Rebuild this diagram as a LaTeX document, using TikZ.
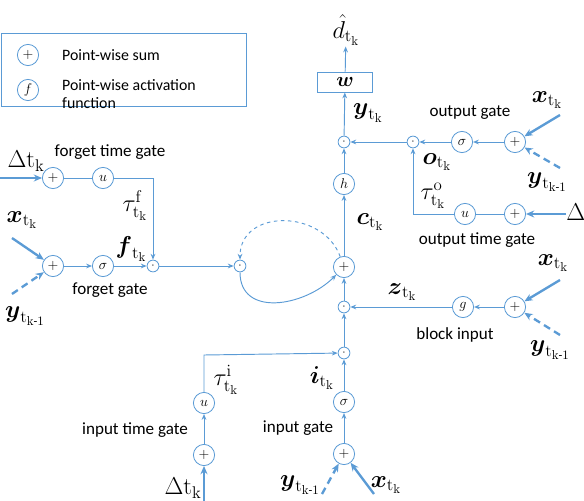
\documentclass[tikz,border=0pt]{standalone}
\usepackage{amsmath}
\usepackage{amssymb}
\usepackage[no-math]{fontspec}
\setmainfont{Carlito}
\usepackage{tikz}
\usetikzlibrary{positioning, arrows.meta}

\definecolor{lineblue}{RGB}{91,155,213}
\newcommand{\tk}{\mathrm{t}_{\mathrm{k}}}
\newcommand{\tkm}{\mathrm{t}_{\mathrm{k}\text{-}1}}

\tikzset{
  op/.style={circle, draw=lineblue, fill=white, line width=0.7pt, minimum size=18pt, inner sep=0pt, font=\fontsize{12}{14}\selectfont},
  dotop/.style={circle, draw=lineblue, fill=white, line width=0.7pt, minimum size=10pt, inner sep=0pt},
  flow/.style={lineblue, line width=0.8pt, -{Stealth[length=5pt,width=4pt]}},
  feed/.style={lineblue, line width=2pt, -{Stealth[length=7pt,width=6pt]}},
  legendtext/.style={font=\fontsize{13.5}{15.5}\selectfont},
  gatename/.style={font=\fontsize{14.5}{16}\selectfont},
  vec/.style={font=\fontsize{21}{23}\selectfont, inner sep=1pt},
}

\begin{document}
\begin{tikzpicture}[x=0.85pt, y=-0.85pt]
\useasboundingbox (0,0) rectangle (584,501);

% legend
\draw[lineblue, line width=0.7pt] (1,33) rectangle (246,106);
\node[op] (legsum) at (28,55) {$+$};
\node[op] (legact) at (28,90) {$f$};
\node[legendtext, anchor=west] (legsumtxt) at (58,55) {Point-wise sum};
\node[legendtext, anchor=west, align=left] (legacttxt) at (58,94) {Point-wise activation\\function};

% forget gate and forget time gate
\node[op] (ftplus) at (53,178) {$+$};
\node[op] (ftu) at (103,178) {$u$};
\node[op] (fplus) at (53,266) {$+$};
\node[op] (fsig) at (103,266) {$\sigma$};
\node[dotop] (fdot) at (153,266) {$\cdot$};
\coordinate (fcorner) at (153,178);
\coordinate (fdelta) at (0,178);
\coordinate (fx) at (12,238);
\coordinate (fy) at (12,294);
\draw[feed] (fdelta) -- (ftplus);
\draw[feed] (fx) -- (fplus);
\draw[feed, dash pattern=on 6pt off 4pt] (fy) -- (fplus);
\draw[lineblue, line width=0.8pt] (ftplus) -- (ftu);
\draw[flow] (ftu) -- (fcorner) -- (fdot);
\draw[flow] (fplus) -- (fsig);
\draw[flow] (fsig) -- (fdot);
\node[vec] (fdeltalbl) at (26,161) {$\Delta\mathrm{t}_{\mathrm{k}}$};
\node[vec] (fxlbl) at (22,220) {$\boldsymbol{x}_{\tk}$};
\node[vec] (fylbl) at (25,316) {$\boldsymbol{y}_{\tkm}$};
\node[gatename] (ftname) at (110,152) {forget time gate};
\node[gatename] (fname) at (110,290) {forget gate};
\node[vec] (taufl) at (135,206) {$\tau_{\tk}^{\mathrm{f}}$};
\node[vec] (fl) at (131,249) {$\boldsymbol{f}_{\tk}$};

% cell
\node[dotop] (cdot) at (240,266) {$\cdot$};
\node[op] (cplus) at (344,267) {$+$};
\draw[flow] (fdot) -- (cdot);
\draw[flow] (cdot) to[out=-90, in=-135, looseness=1.2] (cplus);
\draw[flow, dashed] (cplus) to[out=110, in=90, looseness=1.3] (cdot);

% output column
\node[op] (h) at (344,184) {$h$};
\node[dotop] (ydot) at (344,142) {$\cdot$};
\node[draw=lineblue, line width=0.8pt, minimum width=47pt, minimum height=17pt, inner sep=0pt, font=\fontsize{17}{19}\selectfont] (w) at (345,82) {$\boldsymbol{w}$};
\node[vec] (dhat) at (346,30) {$\hat{d}_{\tk}$};
\draw[flow] (cplus) -- (h);
\draw[flow] (h) -- (ydot);
\draw[flow] (ydot) -- (w);
\draw[flow] (w) -- (dhat);
\node[vec] (ylbl) at (368,113) {$\boldsymbol{y}_{\tk}$};
\node[vec] (clbl) at (370,222) {$\boldsymbol{c}_{\tk}$};

% output gate and output time gate
\node[dotop] (odot) at (413,142) {$\cdot$};
\node[op] (osig) at (462,142) {$\sigma$};
\node[op] (oplus) at (515,142) {$+$};
\node[op] (ou) at (465,214) {$u$};
\node[op] (otplus) at (515,214) {$+$};
\coordinate (ocorner) at (413,214);
\coordinate (ox) at (560,115);
\coordinate (oy) at (560,168);
\coordinate (odelta) at (566,214);
\draw[feed] (ox) -- (oplus);
\draw[feed, dash pattern=on 6pt off 4pt] (oy) -- (oplus);
\draw[feed] (odelta) -- (otplus);
\draw[flow] (oplus) -- (osig);
\draw[flow] (osig) -- (odot);
\draw[flow] (odot) -- (ydot);
\draw[lineblue, line width=0.8pt] (otplus) -- (ou);
\draw[flow] (ou) -- (ocorner) -- (odot);
\node[gatename] (oname) at (470,113) {output gate};
\node[vec] (oxlbl) at (547,100) {$\boldsymbol{x}_{\tk}$};
\node[vec] (oylbl) at (547,182) {$\boldsymbol{y}_{\tkm}$};
\node[vec] (ol) at (437,162) {$\boldsymbol{o}_{\tk}$};
\node[vec] (tauol) at (433,196) {$\tau_{\tk}^{\mathrm{o}}$};
\node[gatename] (otname) at (477,240) {output time gate};
\node[vec, anchor=west] (odeltalbl) at (565,214) {$\Delta\mathrm{t}_{\mathrm{k}}$};

% block input
\node[op] (g) at (463,307) {$g$};
\node[op] (bplus) at (515,307) {$+$};
\node[dotop] (zdot) at (344,307) {$\cdot$};
\coordinate (bx) at (560,280);
\coordinate (by) at (560,335);
\draw[feed] (bx) -- (bplus);
\draw[feed, dash pattern=on 6pt off 4pt] (by) -- (bplus);
\draw[flow] (bplus) -- (g);
\draw[flow] (g) -- (zdot);
\draw[flow] (zdot) -- (cplus);
\node[vec] (bxlbl) at (553,263) {$\boldsymbol{x}_{\tk}$};
\node[vec] (bylbl) at (550,350) {$\boldsymbol{y}_{\tkm}$};
\node[gatename] (bname) at (455,335) {block input};
\node[vec] (zl) at (402,292) {$\boldsymbol{z}_{\tk}$};

% input gate
\node[dotop] (idot) at (344,353) {$\cdot$};
\node[op] (isig) at (344,402) {$\sigma$};
\node[op] (iplus) at (344,454) {$+$};
\coordinate (ix) at (374,494);
\coordinate (iy) at (322,494);
\draw[feed] (ix) -- (iplus);
\draw[feed, dash pattern=on 6pt off 4pt] (iy) -- (iplus);
\draw[flow] (iplus) -- (isig);
\draw[flow] (isig) -- (idot);
\draw[flow] (idot) -- (zdot);
\node[vec] (iylbl) at (300,485) {$\boldsymbol{y}_{\tkm}$};
\node[vec] (ixlbl) at (386,485) {$\boldsymbol{x}_{\tk}$};
\node[vec] (il) at (322,378) {$\boldsymbol{i}_{\tk}$};
\node[gatename] (iname) at (298,428) {input gate};

% input time gate
\node[op] (iu) at (204,403) {$u$};
\node[op] (itplus) at (204,455) {$+$};
\coordinate (icorner) at (204,355);
\coordinate (idelta) at (204,501);
\draw[feed] (idelta) -- (itplus);
\draw[flow] (itplus) -- (iu);
\draw[flow] (iu) -- (icorner) -- (idot);
\node[vec] (idlbl) at (183,488) {$\Delta\mathrm{t}_{\mathrm{k}}$};
\node[vec] (tauil) at (226,380) {$\tau_{\tk}^{\mathrm{i}}$};
\node[gatename] (itname) at (135,430) {input time gate};
\end{tikzpicture}
\end{document}
